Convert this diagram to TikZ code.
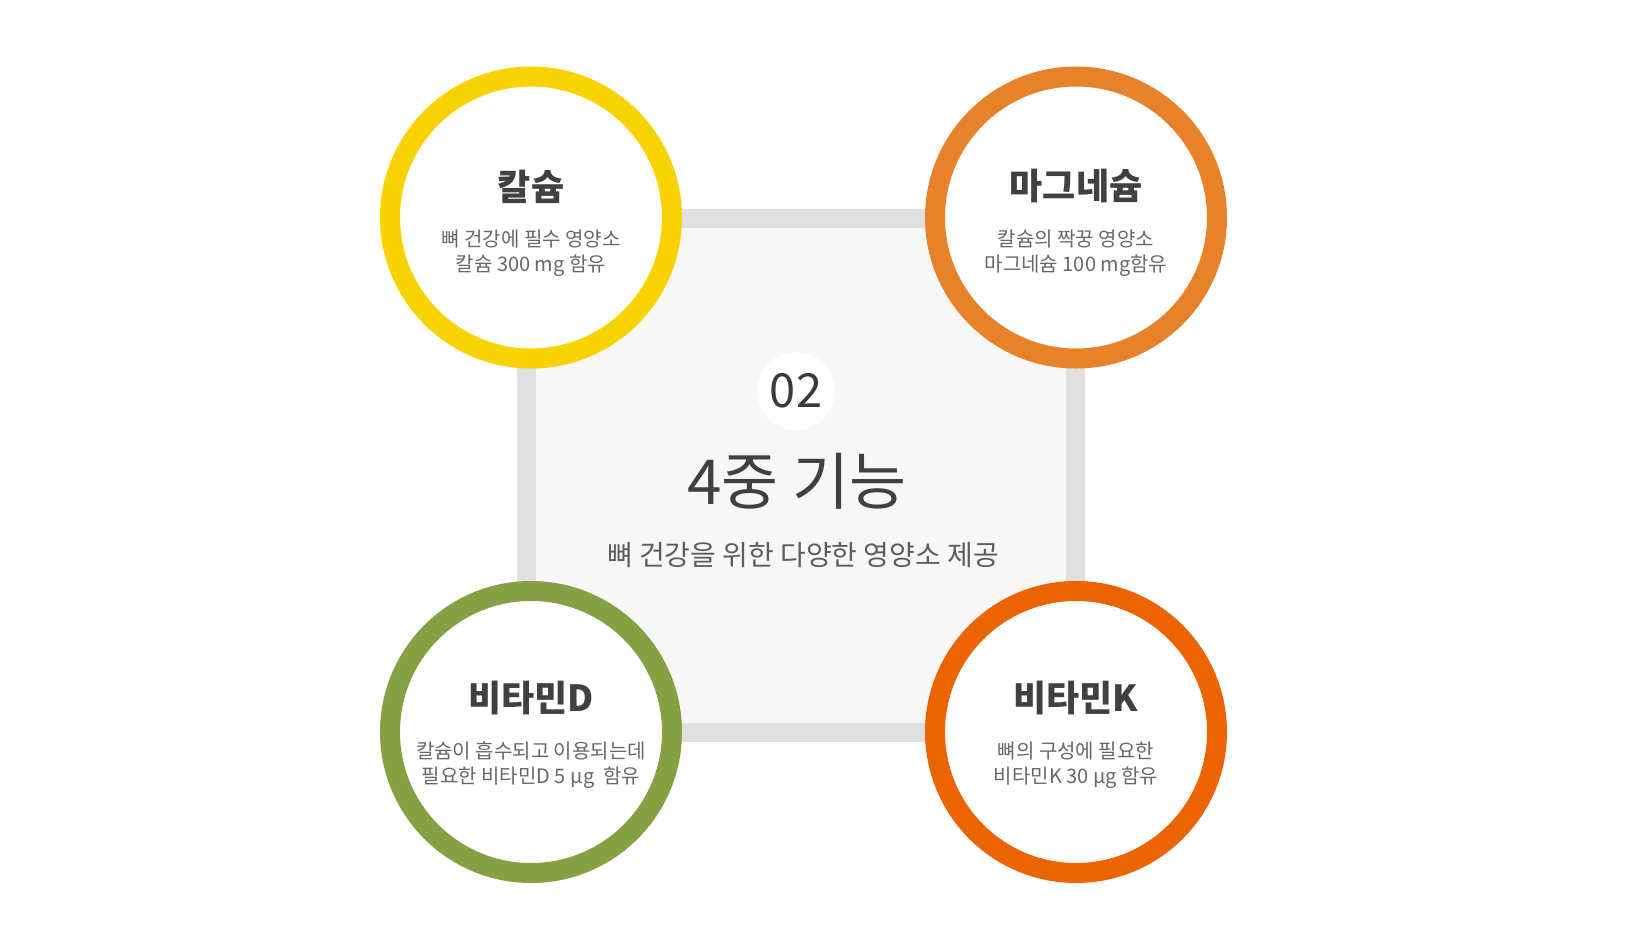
\documentclass[tikz,border=0pt]{standalone}
\usepackage{fontspec}
\setmainfont{Noto Sans CJK KR}
\usetikzlibrary{positioning}
\definecolor{calyellow}{HTML}{F8D300}
\definecolor{magorange}{HTML}{E8822A}
\definecolor{vitdgreen}{HTML}{86A143}
\definecolor{vitkorange}{HTML}{EC6400}
\definecolor{framegray}{HTML}{E0E0E0}
\definecolor{panelgray}{HTML}{F7F7F7}
\definecolor{headtext}{HTML}{404040}
\definecolor{desctext}{HTML}{686868}

\tikzset{
  panel/.style={rectangle, draw=framegray, fill=panelgray, line width=19pt,
    minimum width=549pt, minimum height=514pt, inner sep=0pt},
  ring/.style={circle, draw=#1, line width=20pt, fill=white,
    minimum size=282pt, inner sep=0pt},
  ringtitle/.style={font=\fontsize{36}{40}\selectfont\bfseries, text=headtext, inner sep=0pt},
  ringdesc/.style={font=\fontsize{20}{25}\selectfont, text=desctext, align=center, inner sep=0pt},
}

\begin{document}
\begin{tikzpicture}[x=1pt,y=-1pt]
    \useasboundingbox (0,0) rectangle (1625,948);
    % centre panel
    \node[panel] (panel) at (801,475.5) {};
    \node[circle, fill=white, minimum size=78pt, inner sep=0pt,
      font=\fontsize{47}{50}\selectfont, text=headtext!90!black] (badge) at (796,391) {02};
    \node[font=\fontsize{62}{66}\selectfont, text=headtext, inner sep=0pt] (headline) at (797,481) {4중 기능};
    \node[font=\fontsize{28}{32}\selectfont, text=headtext!85!white, inner sep=0pt] (subline) at (803,555) {뼈 건강을 위한 다양한 영양소 제공};
    % four rings
    \node[ring=calyellow] (calcium) at (531,217.5) {};
    \node[ring=magorange] (magnesium) at (1076,217.5) {};
    \node[ring=vitdgreen] (vitd) at (531,732) {};
    \node[ring=vitkorange] (vitk) at (1076,732) {};
    \node[ringtitle] (calcium-t) at (531,186.5) {칼슘};
    \node[ringdesc] (calcium-d) at (531,253.5) {뼈 건강에 필수 영양소\\칼슘 300 mg 함유};
    \node[ringtitle] (magnesium-t) at (1076,186.5) {마그네슘};
    \node[ringdesc] (magnesium-d) at (1076,253.5) {칼슘의 짝꿍 영양소\\마그네슘 100 mg함유};
    \node[ringtitle] (vitd-t) at (531,698.5) {비타민D};
    \node[ringdesc] (vitd-d) at (531,765.5) {칼슘이 흡수되고 이용되는데\\필요한 비타민D 5 µg\ \ 함유};
    \node[ringtitle] (vitk-t) at (1076,698.5) {비타민K};
    \node[ringdesc] (vitk-d) at (1076,765.5) {뼈의 구성에 필요한\\비타민K 30 µg 함유};
\end{tikzpicture}
\end{document}
